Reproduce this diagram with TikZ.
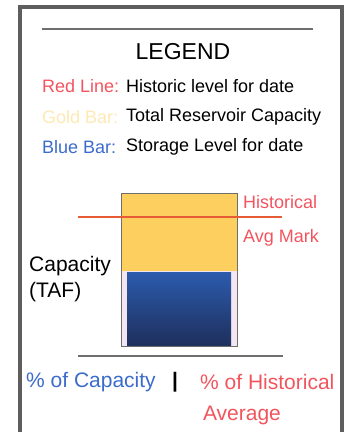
\documentclass[tikz,border=0pt]{standalone}
\usepackage{fontspec}
\setmainfont{Liberation Sans}
\definecolor{framegray}{HTML}{5E5E5E}
\definecolor{rulegray}{HTML}{6E6E6E}
\definecolor{redtxt}{HTML}{F2545E}
\definecolor{goldtxt}{HTML}{FCE9B4}
\definecolor{bluetxt}{HTML}{3B6BCB}
\definecolor{goldfill}{HTML}{FDCF5E}
\definecolor{bluetop}{HTML}{2C5BAD}
\definecolor{bluebot}{HTML}{1E2F5C}
\definecolor{redline}{HTML}{E65A36}
\definecolor{gapfill}{HTML}{F3E6F0}
\begin{document}
\begin{tikzpicture}[x=1pt,y=-1pt,
  txt/.style={inner sep=0pt, anchor=west, font=\fontsize{18}{20}\selectfont},
  bigtxt/.style={inner sep=0pt, anchor=west, font=\fontsize{21}{23}\selectfont},
  rulestyle/.style={draw=rulegray, line width=1.6pt}]
\useasboundingbox (0,0) rectangle (347,432);
% outer frame
\draw[framegray, line width=3.5pt] (20,7) rectangle (342,445);
% top rule
\coordinate (t1) at (42,29); \coordinate (t2) at (313,29);
\draw[rulestyle] (t1) -- (t2);
% legend
\node[inner sep=0pt, font=\fontsize{23}{25}\selectfont] (legend) at (183,52) {LEGEND};
\node[txt, text=redtxt] (rl) at (42,86) {Red Line:};
\node[txt] (rld) at (126,86) {Historic level for date};
\node[txt, text=goldtxt] (gb) at (42,117) {Gold Bar:};
\node[txt] (gbd) at (126,117) {Total Reservoir Capacity};
\node[txt, text=bluetxt] (bb) at (42,147) {Blue Bar:};
\node[txt] (bbd) at (126,147) {Storage Level for date};
% bar
\fill[gapfill] (122,270) rectangle (237,346);
\fill[goldfill] (122,194) rectangle (237,271);
\shade[top color=bluetop, bottom color=bluebot] (127,272) rectangle (231,346);
\node[draw=rulegray, line width=1.8pt, minimum width=116pt, minimum height=153pt, inner sep=0pt] (bar) at (179.5,270) {};
% red line
\coordinate (r1) at (78,217); \coordinate (r2) at (282,217);
\draw[redline, line width=2.8pt] (r1) -- (r2);
\node[txt, text=redtxt] (hist) at (243,202) {Historical};
\node[txt, text=redtxt] (avg) at (243,238) {Avg Mark};
\node[bigtxt] (cap) at (29,266) {Capacity};
\node[bigtxt] (taf) at (29,292) {(TAF)};
% bottom rule
\coordinate (b1) at (78,356); \coordinate (b2) at (283,356);
\draw[rulestyle] (b1) -- (b2);
\node[bigtxt, text=bluetxt] (pc) at (26,382) {\% of Capacity};
\node[inner sep=0pt, font=\fontsize{21}{23}\selectfont\bfseries] (sep) at (175,382) {|};
\node[bigtxt, text=redtxt] (ph) at (200,382) {\% of Historical};
\node[inner sep=0pt, font=\fontsize{21}{23}\selectfont, text=redtxt] (av) at (242,415) {Average};
\end{tikzpicture}
\end{document}
